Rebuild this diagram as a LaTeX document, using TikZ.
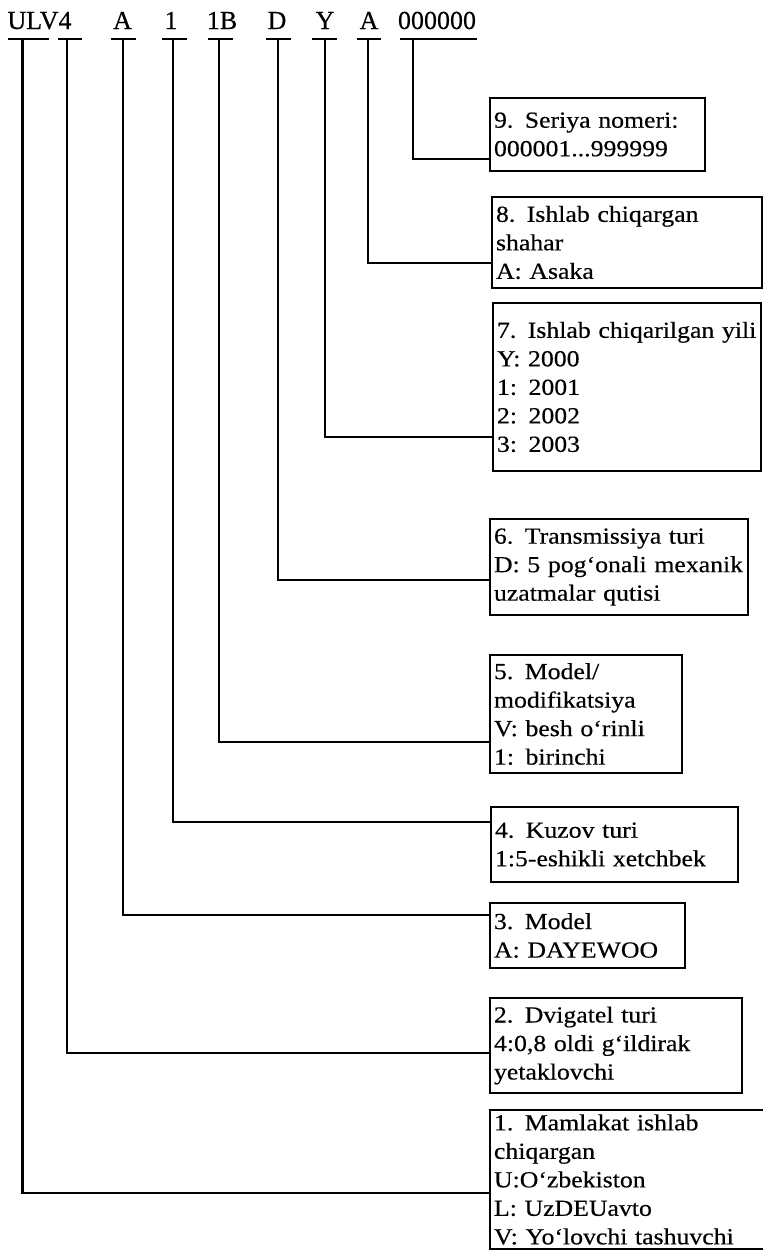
\documentclass[tikz,border=0pt]{standalone}
\usepackage{fontspec}
\setmainfont{Liberation Serif}[FakeStretch=1.12, FakeBold=0.4]
\newfontfamily\codefont{Liberation Serif}[FakeBold=0.4]
\begin{document}
\begin{tikzpicture}[x=1pt,y=-1pt,
  code/.style={font=\codefont\fontsize{26}{28}\selectfont, inner sep=0pt, anchor=base},
  bar/.style={line width=2.8pt},
  link/.style={line width=2.5pt},
  infobox/.style={draw, line width=2pt, anchor=north west, align=left,
    inner xsep=4pt, inner ysep=0pt, outer sep=0pt,
    font=\fontsize{23}{28.5}\selectfont},
  boxsize/.style n args={2}{minimum width=#1pt, text width=#1pt-8pt, minimum height=#2pt}
]
\useasboundingbox (0,0) rectangle (763,1251);

% VIN code characters
\node[code] (c1) at (39.5,29) {ULV4};
\node[code] (c3) at (122.5,29) {A};
\node[code] (c4) at (171,29) {1};
\node[code] (c5) at (222,29) {1B};
\node[code] (c6) at (277,29) {D};
\node[code] (c7) at (325,29) {Y};
\node[code] (c8) at (369,29) {A};
\node[code] (c9) at (437,29) {000000};

% underline bars below each group
\draw[bar] (8,39) -- (49,39);
\draw[bar] (58,39) -- (82,39);
\draw[bar] (111,39) -- (136,39);
\draw[bar] (162,39) -- (187,39);
\draw[bar] (208,39) -- (233,39);
\draw[bar] (266,39) -- (291,39);
\draw[bar] (312,39) -- (337,39);
\draw[bar] (357,39) -- (381,39);
\draw[bar] (400,39) -- (477,39);

% stem tops
\coordinate (t1) at (22.5,39);
\coordinate (t2) at (67,39);
\coordinate (t3) at (123,39);
\coordinate (t4) at (173,39);
\coordinate (t5) at (219,39);
\coordinate (t6) at (278,39);
\coordinate (t7) at (325,39);
\coordinate (t8) at (368,39);
\coordinate (t9) at (413,39);

% explanation boxes
\node[infobox, boxsize={215}{73}] (b9) at (490,98)
  {\mbox{9. Seriya nomeri:}\\000001...999999};
\node[infobox, boxsize={270}{91}] (b8) at (492,197)
  {\mbox{8. Ishlab chiqargan}\\shahar\\A: Asaka};
\node[infobox, boxsize={268}{168}] (b7) at (493,303)
  {\mbox{7. Ishlab chiqarilgan yili}\\Y: 2000\\1: 2001\\2: 2002\\3: 2003};
\node[infobox, boxsize={258}{96}] (b6) at (490,519)
  {\mbox{6. Transmissiya turi}\\\mbox{D: 5 pog‘onali mexanik}\\\mbox{uzatmalar qutisi}};
\node[infobox, boxsize={192}{118}] (b5) at (490,655)
  {5. Model/\\modifikatsiya\\\mbox{V: besh o‘rinli}\\1: birinchi};
\node[infobox, boxsize={247}{75}] (b4) at (491,807)
  {\mbox{4. Kuzov turi}\\\mbox{1:5-eshikli xetchbek}};
\node[infobox, boxsize={195}{65}] (b3) at (490,903)
  {3. Model\\\mbox{A: DAYEWOO}};
\node[infobox, boxsize={252}{95}] (b2) at (490,998)
  {\mbox{2. Dvigatel turi}\\\mbox{4:0,8 oldi g‘ildirak}\\yetaklovchi};
\node[infobox, boxsize={290}{139}] (b1) at (490,1110)
  {\mbox{1. Mamlakat ishlab}\\chiqargan\\U:O‘zbekiston\\\mbox{L: UzDEUavto}\\\mbox{V: Yo‘lovchi tashuvchi}};

% levels of the elbow connectors
\coordinate (y9) at (0,159);
\coordinate (y8) at (0,263);
\coordinate (y7) at (0,437);
\coordinate (y6) at (0,580);
\coordinate (y5) at (0,742);
\coordinate (y4) at (0,822);
\coordinate (y3) at (0,915);
\coordinate (y2) at (0,1053);
\coordinate (y1) at (0,1193);

\draw[link] (t9) |- (b9.west |- y9);
\draw[link] (t8) |- (b8.west |- y8);
\draw[link] (t7) |- (b7.west |- y7);
\draw[link] (t6) |- (b6.west |- y6);
\draw[link] (t5) |- (b5.west |- y5);
\draw[link] (t4) |- (b4.west |- y4);
\draw[link] (t3) |- (b3.west |- y3);
\draw[link] (t2) |- (b2.west |- y2);
\draw[link] (t1) |- (b1.west |- y1);
\end{tikzpicture}
\end{document}
